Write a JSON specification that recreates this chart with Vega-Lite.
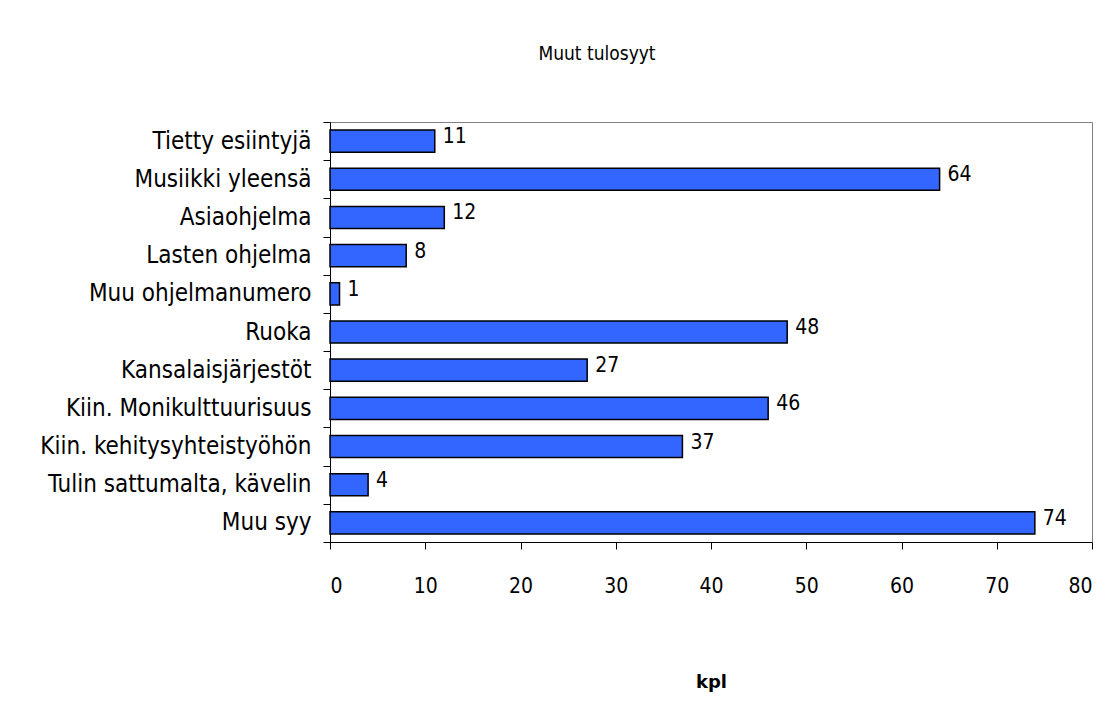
{
  "$schema": "https://vega.github.io/schema/vega-lite/v6.json",
  "autosize": {"type": "none"},
  "width": 762,
  "height": 420,
  "padding": {"left": 330, "top": 122, "right": 24, "bottom": 160},
  "background": "white",
  "title": {
    "text": "Muut tulosyyt",
    "anchor": "middle",
    "dx": -114,
    "offset": 46,
    "fontSize": 19,
    "fontWeight": "normal",
    "font": "DejaVu Sans Condensed, DejaVu Sans",
    "color": "black"
  },
  "data": {
    "values": [
      {"syy": "Tietty esiintyjä", "kpl": 11},
      {"syy": "Musiikki yleensä", "kpl": 64},
      {"syy": "Asiaohjelma", "kpl": 12},
      {"syy": "Lasten ohjelma", "kpl": 8},
      {"syy": "Muu ohjelmanumero", "kpl": 1},
      {"syy": "Ruoka", "kpl": 48},
      {"syy": "Kansalaisjärjestöt", "kpl": 27},
      {"syy": "Kiin. Monikulttuurisuus", "kpl": 46},
      {"syy": "Kiin. kehitysyhteistyöhön", "kpl": 37},
      {"syy": "Tulin sattumalta, kävelin", "kpl": 4},
      {"syy": "Muu syy", "kpl": 74}
    ]
  },
  "encoding": {
    "y": {
      "field": "syy",
      "type": "nominal",
      "sort": null,
      "scale": {"paddingInner": 0, "paddingOuter": 0},
      "axis": {
        "title": null,
        "tickBand": "extent",
        "tickSize": 7,
        "tickColor": "black",
        "domainColor": "black",
        "labelFont": "DejaVu Sans Condensed, DejaVu Sans",
        "labelFontSize": 24,
        "labelColor": "black",
        "labelPadding": 12,
        "labelLimit": 400
      }
    },
    "x": {
      "field": "kpl",
      "type": "quantitative",
      "scale": {"domain": [0, 80], "nice": false},
      "axis": {
        "values": [0, 10, 20, 30, 40, 50, 60, 70, 80],
        "grid": false,
        "tickSize": 7,
        "tickColor": "black",
        "domainColor": "black",
        "labelFont": "DejaVu Sans Condensed, DejaVu Sans",
        "labelFontSize": 21,
        "labelColor": "black",
        "labelPadding": 26,
        "title": "kpl",
        "titleFont": "DejaVu Sans",
        "titleFontSize": 18,
        "titleFontWeight": "bold",
        "titleColor": "black",
        "titlePadding": 77
      }
    }
  },
  "layer": [
    {
      "mark": {"type": "bar", "height": {"band": 0.58}, "color": "#3366FF", "stroke": "black", "strokeWidth": 1.5}
    },
    {
      "mark": {"type": "text", "align": "left", "baseline": "middle", "dx": 8, "dy": -4, "font": "DejaVu Sans Condensed, DejaVu Sans", "fontSize": 21, "color": "black"},
      "encoding": {"text": {"field": "kpl", "type": "quantitative"}}
    }
  ],
  "config": {
    "view": {"stroke": "#808080", "strokeWidth": 1}
  }
}
